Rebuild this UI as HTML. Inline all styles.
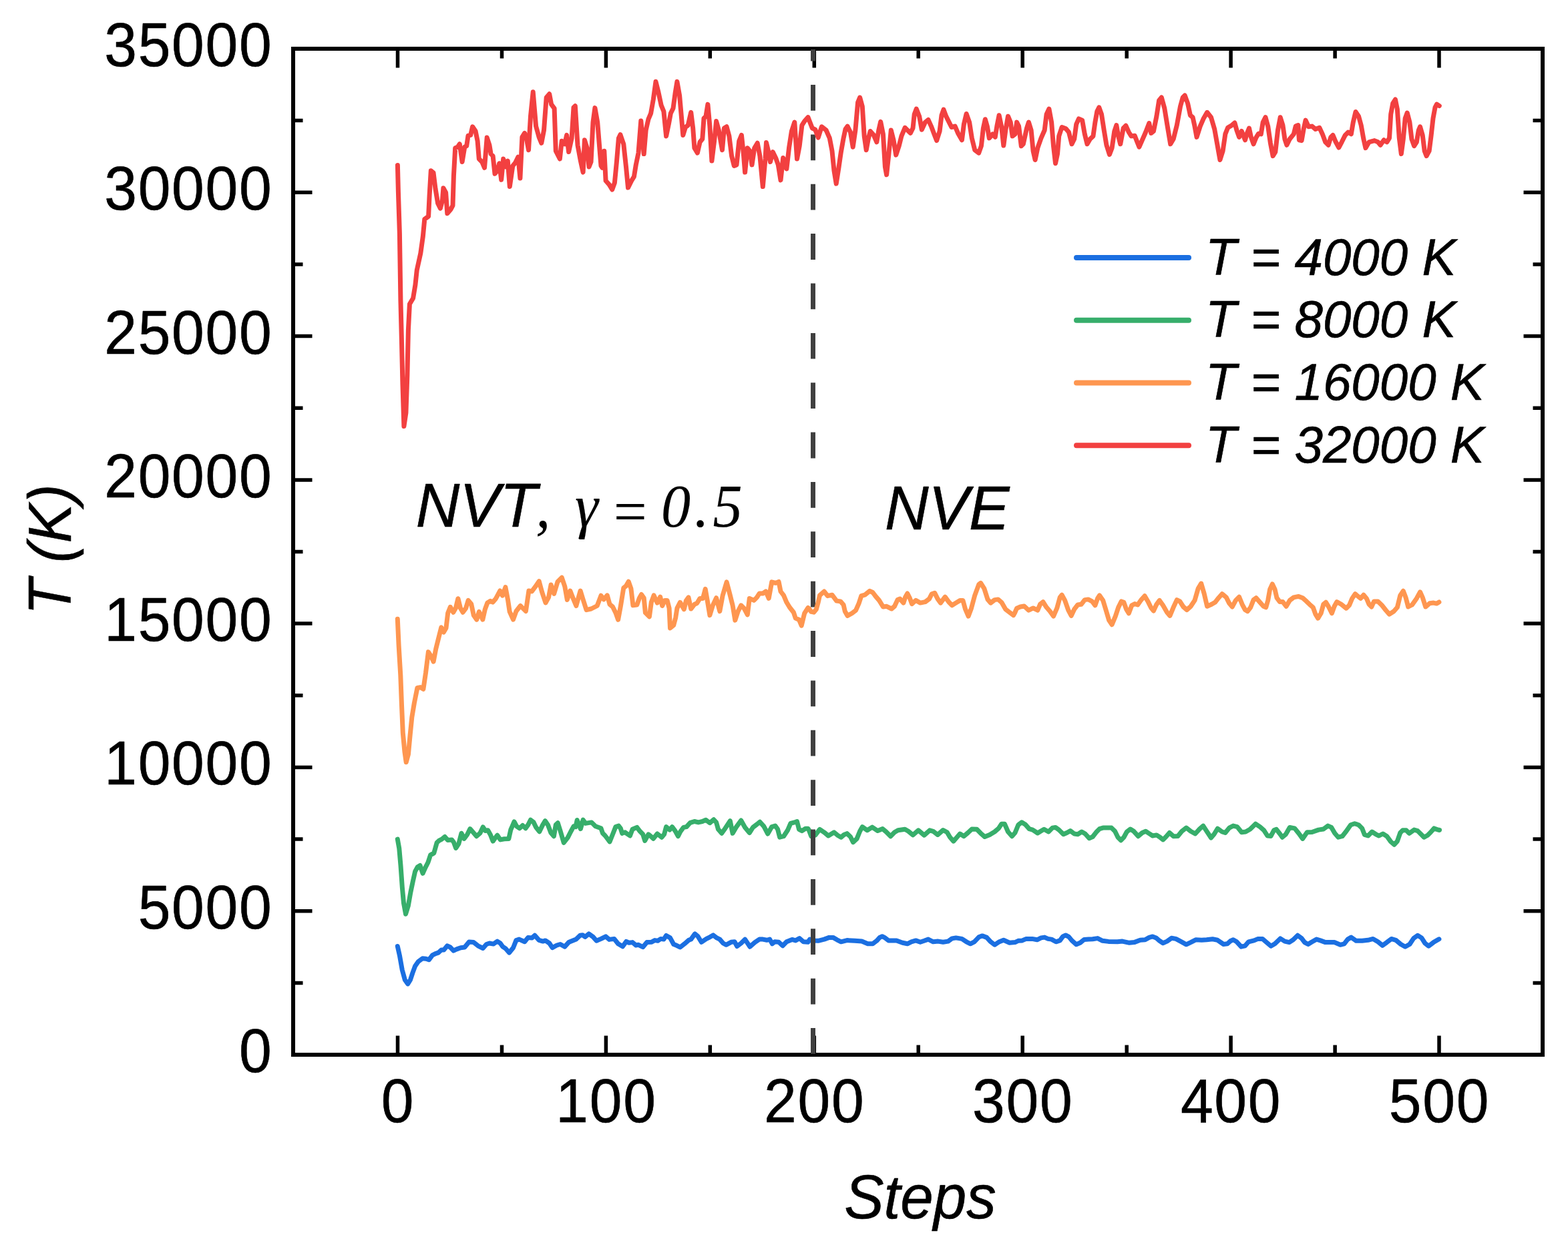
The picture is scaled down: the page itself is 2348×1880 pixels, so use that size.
<!DOCTYPE html>
<html lang="en">
<head>
<meta charset="utf-8">
<title>Temperature vs Steps</title>
<style>
html,body{margin:0;padding:0;background:#fff;}
body{width:2348px;height:1880px;overflow:hidden;}
svg{display:block;}
text{font-family:"Liberation Sans",sans-serif;fill:#000;stroke:#000;stroke-width:0.6px;stroke-linejoin:round;}
.it{font-style:italic;}
.ser{font-family:"Liberation Serif",serif;font-style:italic;stroke-width:0.2px;}
.crv{fill:none;stroke-width:7.0;stroke-linejoin:round;stroke-linecap:round;}
</style>
</head>
<body>
<svg role="img" aria-label="Temperature T (K) versus Steps for four target temperatures" width="2348" height="1880" viewBox="0 0 2348 1880">
<rect x="0" y="0" width="2348" height="1880" fill="#ffffff"/>
<polyline class="crv" points="595.3,1417.5 598.6,1432.3 602.3,1453.1 606.4,1468.0 610.7,1473.9 614.4,1468.0 617.8,1457.6 621.6,1447.2 626.3,1440.5 632.7,1435.8 637.9,1436.3 642.3,1437.8 647.5,1430.9 652.0,1428.6 656.4,1427.1 660.9,1423.0 664.6,1423.0 669.8,1416.8 674.2,1419.0 679.1,1424.2 683.9,1421.9 689.8,1419.7 695.8,1419.0 702.4,1411.1 709.1,1411.6 715.8,1416.8 723.2,1420.5 728.4,1414.5 732.9,1413.0 738.8,1414.1 744.7,1410.1 749.2,1413.0 752.9,1418.2 757.4,1421.2 762.6,1427.1 768.5,1419.7 772.9,1408.6 777.4,1407.1 785.6,1410.8 790.8,1404.4 796.7,1404.9 800.7,1401.2 807.1,1408.3 813.0,1410.1 816.7,1408.9 822.7,1413.0 827.1,1419.7 833.8,1416.0 839.0,1414.5 845.7,1418.2 851.6,1411.6 859.0,1408.6 862.7,1407.1 868.7,1401.2 872.4,1400.7 876.1,1403.4 881.7,1398.9 888.0,1403.4 893.2,1409.3 900.0,1406.4 907.1,1402.9 912.3,1407.4 919.7,1406.4 925.6,1413.8 932.3,1417.8 937.8,1410.4 941.9,1412.3 947.1,1411.6 952.3,1416.0 956.0,1415.3 962.7,1418.7 968.7,1411.6 975.3,1411.3 980.5,1408.6 985.0,1409.3 989.4,1406.4 993.9,1407.1 997.6,1401.5 1003.5,1404.9 1008.7,1414.5 1013.2,1416.3 1018.4,1419.0 1025.1,1413.8 1031.0,1408.6 1034.7,1407.1 1040.6,1398.9 1045.1,1402.7 1050.3,1411.3 1057.7,1406.4 1062.9,1403.8 1068.1,1400.9 1073.3,1404.9 1077.8,1407.1 1082.9,1413.0 1087.4,1415.3 1094.8,1411.3 1100.0,1410.8 1103.7,1417.5 1109.7,1413.0 1115.6,1407.1 1123.0,1418.2 1130.4,1411.6 1137.1,1407.1 1142.3,1407.1 1148.3,1408.3 1152.7,1407.1 1156.4,1413.8 1160.1,1410.8 1166.1,1411.3 1172.0,1416.8 1177.9,1410.8 1186.1,1407.4 1191.3,1408.9 1197.2,1405.6 1203.2,1410.8 1210.0,1411.3 1212.6,1407.1 1217.8,1408.9 1225.2,1409.3 1234.1,1407.1 1241.6,1404.4 1247.5,1404.4 1253.4,1407.8 1259.4,1410.8 1268.3,1408.6 1280.1,1409.3 1290.5,1410.1 1299.4,1413.8 1306.9,1413.8 1312.8,1409.3 1317.3,1404.4 1321.0,1402.7 1325.4,1404.9 1330.6,1408.9 1342.5,1408.9 1351.4,1412.3 1358.8,1413.8 1364.7,1410.8 1371.4,1408.9 1378.1,1411.3 1384.0,1409.3 1390.0,1407.1 1397.4,1410.8 1404.8,1410.1 1412.2,1411.3 1419.7,1410.1 1425.6,1405.9 1431.5,1404.9 1440.4,1406.4 1447.1,1410.8 1453.1,1413.8 1459.0,1410.8 1465.7,1403.8 1470.9,1401.9 1477.6,1404.4 1483.5,1410.8 1489.4,1415.3 1495.4,1411.3 1502.8,1408.3 1511.7,1412.3 1520.0,1411.6 1524.8,1409.3 1530.8,1408.9 1536.7,1406.4 1545.6,1406.4 1553.0,1407.8 1559.0,1404.9 1564.2,1404.1 1569.4,1406.4 1574.6,1407.1 1581.2,1410.8 1587.2,1408.9 1591.6,1402.9 1595.8,1400.9 1600.5,1403.4 1605.0,1408.9 1611.7,1414.8 1617.6,1412.3 1623.5,1407.4 1630.2,1407.1 1636.2,1406.8 1643.6,1405.6 1651.0,1409.3 1659.9,1410.4 1673.3,1410.8 1680.7,1410.1 1691.1,1412.3 1698.5,1411.6 1707.4,1408.3 1714.8,1407.8 1720.8,1404.4 1726.0,1402.9 1731.2,1404.9 1736.3,1409.3 1741.5,1412.7 1747.5,1410.1 1754.2,1405.3 1760.8,1406.4 1768.3,1410.4 1776.4,1414.8 1783.1,1411.6 1790.5,1407.8 1799.4,1408.3 1806.8,1407.8 1815.8,1406.8 1823.2,1408.3 1830.0,1413.0 1831.9,1414.5 1837.8,1413.8 1842.3,1409.8 1846.7,1407.8 1851.9,1410.8 1858.6,1418.2 1864.5,1416.8 1869.7,1410.8 1877.9,1408.9 1883.8,1406.4 1890.5,1406.4 1895.7,1410.8 1903.1,1417.2 1909.1,1413.8 1917.2,1405.9 1923.9,1410.1 1930.6,1411.6 1936.5,1407.8 1943.2,1401.2 1949.1,1405.6 1953.6,1411.6 1958.8,1414.5 1964.0,1411.3 1971.4,1407.1 1977.3,1408.9 1984.7,1411.6 1998.1,1411.6 2007.0,1415.3 2012.9,1413.8 2018.1,1407.1 2023.3,1404.1 2030.8,1409.3 2039.7,1409.3 2048.6,1408.3 2056.0,1406.4 2063.4,1410.8 2070.1,1416.3 2076.8,1411.6 2083.5,1406.4 2090.1,1408.3 2097.6,1414.5 2104.2,1418.2 2110.9,1414.5 2116.8,1405.6 2122.8,1401.2 2128.7,1404.9 2133.9,1413.0 2139.3,1417.2 2146.7,1411.6 2154.9,1406.8" stroke="#1b6fe1"/>
<polyline class="crv" points="595.3,1257.1 597.8,1271.2 600.0,1296.5 602.3,1329.1 604.5,1352.9 607.5,1369.2 611.2,1357.3 614.9,1336.5 618.3,1320.2 621.6,1305.4 625.3,1298.7 629.0,1296.5 633.1,1308.3 637.1,1299.4 640.9,1292.0 644.6,1280.9 649.8,1277.9 654.2,1262.3 657.2,1259.4 661.6,1257.1 666.1,1253.4 670.5,1258.6 676.5,1257.9 679.4,1261.6 682.7,1270.5 686.9,1263.8 691.0,1248.2 695.0,1256.4 699.5,1250.5 703.9,1241.6 709.1,1247.5 713.6,1252.7 718.8,1248.2 723.2,1238.9 726.9,1244.5 730.6,1243.8 734.4,1250.5 738.1,1260.1 741.8,1254.9 744.7,1251.2 749.2,1257.9 755.1,1256.7 761.8,1256.4 764.8,1243.0 770.0,1230.9 773.7,1237.8 778.1,1240.8 782.6,1236.4 787.1,1240.8 790.8,1235.6 794.5,1228.2 798.9,1231.5 802.6,1239.3 807.8,1245.7 812.3,1236.4 816.4,1229.7 820.4,1235.6 824.9,1247.5 829.4,1252.7 832.3,1235.6 835.3,1232.7 839.0,1244.5 844.2,1262.3 850.1,1254.9 854.6,1246.0 859.0,1237.8 862.0,1238.6 864.2,1228.5 869.4,1241.6 873.1,1228.2 876.8,1233.4 885.8,1231.9 891.7,1237.8 900.0,1240.8 902.6,1248.3 906.3,1252.0 913.0,1260.9 917.5,1249.8 921.9,1238.6 926.4,1237.1 929.3,1240.9 931.6,1248.3 936.0,1246.8 943.4,1252.0 947.1,1242.3 953.8,1239.4 958.3,1245.3 962.7,1249.8 965.7,1259.4 970.9,1249.8 974.6,1252.7 978.3,1256.4 984.2,1249.0 990.9,1254.2 994.6,1249.8 997.6,1238.6 1002.8,1243.1 1006.5,1238.6 1011.0,1244.6 1015.4,1252.7 1019.1,1245.3 1023.6,1239.4 1028.0,1238.6 1033.2,1232.7 1039.9,1230.5 1045.8,1231.9 1051.8,1230.5 1057.0,1228.2 1062.9,1232.7 1068.8,1227.8 1072.6,1231.9 1075.5,1242.3 1080.7,1248.3 1085.9,1240.9 1093.3,1229.7 1097.1,1248.3 1102.2,1239.4 1109.7,1229.0 1115.6,1239.4 1122.3,1247.5 1127.5,1239.4 1133.4,1234.9 1137.9,1231.2 1143.8,1237.9 1149.7,1249.0 1155.7,1238.6 1160.9,1237.1 1164.6,1242.3 1167.6,1254.2 1173.5,1252.7 1179.4,1243.8 1183.9,1233.4 1189.8,1231.9 1193.5,1230.5 1196.5,1242.3 1200.9,1244.6 1206.1,1241.2 1210.0,1241.2 1211.1,1243.1 1214.8,1252.7 1220.8,1251.2 1227.5,1242.3 1234.1,1246.8 1240.4,1252.0 1249.0,1246.8 1254.2,1251.2 1259.4,1254.2 1263.8,1250.5 1268.3,1248.6 1273.5,1253.5 1277.5,1261.6 1283.1,1256.4 1287.6,1245.3 1291.3,1238.6 1298.7,1243.8 1306.1,1239.1 1314.3,1244.6 1321.7,1241.6 1326.9,1246.0 1333.6,1252.7 1339.5,1246.8 1344.7,1243.8 1355.1,1242.3 1360.3,1245.3 1367.0,1250.9 1375.1,1243.8 1384.0,1251.2 1392.2,1243.8 1397.4,1245.3 1404.1,1250.5 1412.2,1243.5 1418.2,1246.8 1422.6,1254.2 1427.8,1260.1 1432.3,1255.0 1437.5,1249.0 1443.4,1252.7 1449.4,1247.5 1455.3,1242.0 1462.7,1242.3 1468.6,1248.3 1474.6,1253.5 1482.0,1250.5 1489.4,1246.0 1495.4,1240.9 1499.8,1234.2 1504.3,1234.2 1509.5,1246.0 1515.4,1252.7 1520.0,1247.5 1524.8,1235.7 1530.0,1231.7 1535.2,1234.9 1541.2,1241.6 1546.4,1243.1 1553.8,1248.0 1558.2,1245.3 1563.4,1242.3 1570.1,1246.0 1576.0,1240.1 1580.5,1239.4 1585.7,1243.1 1592.4,1249.8 1597.6,1247.5 1602.8,1244.6 1608.7,1249.0 1613.9,1249.8 1619.8,1246.0 1625.0,1249.0 1631.0,1255.7 1636.2,1253.5 1641.4,1246.8 1646.5,1241.6 1651.7,1240.1 1664.4,1240.1 1669.6,1245.3 1674.0,1254.2 1678.5,1258.7 1682.9,1254.2 1687.4,1246.0 1692.6,1242.0 1697.8,1245.3 1704.4,1252.7 1710.4,1247.5 1715.6,1245.3 1720.8,1248.6 1726.0,1252.0 1731.9,1250.9 1737.1,1254.2 1741.5,1257.9 1746.0,1253.5 1751.2,1247.5 1757.1,1252.7 1763.8,1252.4 1769.7,1245.3 1776.4,1240.1 1783.1,1245.3 1789.8,1249.0 1796.5,1241.6 1801.7,1237.1 1806.1,1243.8 1813.5,1255.0 1818.0,1249.8 1823.2,1241.2 1830.0,1246.0 1834.8,1247.5 1840.8,1240.1 1846.7,1237.1 1852.7,1238.6 1859.3,1246.8 1865.3,1246.0 1871.9,1242.3 1880.1,1234.2 1886.8,1238.6 1892.7,1243.8 1897.9,1252.0 1903.1,1252.4 1907.6,1243.8 1911.3,1242.3 1916.5,1249.0 1920.2,1254.2 1925.4,1249.8 1931.3,1239.4 1938.7,1240.9 1944.7,1248.3 1950.6,1256.4 1957.3,1246.8 1964.7,1246.5 1974.4,1243.1 1981.8,1242.0 1988.5,1237.1 1993.7,1239.4 1998.8,1248.3 2004.0,1254.2 2010.0,1252.7 2015.9,1245.3 2022.6,1235.7 2028.5,1233.7 2034.5,1235.7 2039.7,1240.9 2043.4,1250.5 2048.6,1252.0 2054.5,1246.0 2060.4,1249.8 2064.9,1252.0 2070.8,1249.0 2076.8,1252.7 2082.7,1260.9 2087.9,1265.3 2092.4,1260.1 2096.8,1247.5 2100.5,1243.8 2105.7,1243.8 2110.2,1248.3 2117.6,1243.1 2122.8,1244.6 2128.0,1249.8 2132.4,1254.2 2137.8,1251.2 2142.3,1246.8 2147.5,1240.9 2151.9,1242.6 2155.6,1243.5" stroke="#37ae6b"/>
<rect x="439.0" y="73.0" width="1871.0" height="1507.0" fill="none" stroke="#000" stroke-width="6"/>
<path d="M439.0 1580.0h28.5 M2310.0 1580.0h-28.5 M439.0 1472.4h14.5 M2310.0 1472.4h-14.5 M439.0 1364.7h28.5 M2310.0 1364.7h-28.5 M439.0 1257.1h14.5 M2310.0 1257.1h-14.5 M439.0 1149.4h28.5 M2310.0 1149.4h-28.5 M439.0 1041.8h14.5 M2310.0 1041.8h-14.5 M439.0 934.1h28.5 M2310.0 934.1h-28.5 M439.0 826.5h14.5 M2310.0 826.5h-14.5 M439.0 718.9h28.5 M2310.0 718.9h-28.5 M439.0 611.2h14.5 M2310.0 611.2h-14.5 M439.0 503.6h28.5 M2310.0 503.6h-28.5 M439.0 395.9h14.5 M2310.0 395.9h-14.5 M439.0 288.3h28.5 M2310.0 288.3h-28.5 M439.0 180.6h14.5 M2310.0 180.6h-14.5 M439.0 73.0h28.5 M2310.0 73.0h-28.5 M595.5 1580.0v-28.5 M595.5 73.0v28.5 M751.5 1580.0v-14.5 M751.5 73.0v14.5 M907.4 1580.0v-28.5 M907.4 73.0v28.5 M1063.3 1580.0v-14.5 M1063.3 73.0v14.5 M1219.3 1580.0v-28.5 M1219.3 73.0v28.5 M1375.2 1580.0v-14.5 M1375.2 73.0v14.5 M1531.2 1580.0v-28.5 M1531.2 73.0v28.5 M1687.2 1580.0v-14.5 M1687.2 73.0v14.5 M1843.1 1580.0v-28.5 M1843.1 73.0v28.5 M1999.1 1580.0v-14.5 M1999.1 73.0v14.5 M2155.0 1580.0v-28.5 M2155.0 73.0v28.5" fill="none" stroke="#000" stroke-width="5.5"/>
<path d="M1217.5 74.0V91.4 M1217.5 127.0V165.8 M1217.5 201.4V240.2 M1217.5 275.7V314.5 M1217.5 350.1V388.9 M1217.5 424.5V463.3 M1217.5 498.9V537.6 M1217.5 573.2V612.0 M1217.5 647.6V686.4 M1217.5 722.0V760.8 M1217.5 796.3V835.1 M1217.5 870.7V909.5 M1217.5 945.1V983.9 M1217.5 1019.4V1058.2 M1217.5 1093.8V1132.6 M1217.5 1168.2V1207.0 M1217.5 1242.5V1281.3 M1217.5 1316.9V1355.7 M1217.5 1391.3V1430.1 M1217.5 1465.7V1504.5 M1217.5 1540.0V1578.8" fill="none" stroke="#404040" stroke-width="7"/>
<polyline class="crv" points="595.3,927.2 597.1,966.7 599.8,1011.6 601.5,1056.5 603.3,1097.8 606.0,1126.5 608.2,1141.8 611.4,1130.1 614.1,1101.4 616.8,1074.5 620.4,1052.9 624.9,1030.5 629.4,1029.6 633.9,1032.3 637.5,1008.0 641.4,976.6 645.5,982.9 649.1,991.0 652.7,972.1 656.3,957.7 660.8,939.8 664.4,947.0 668.0,940.7 670.7,918.2 674.3,909.3 678.8,917.3 682.4,911.1 685.9,896.7 689.5,911.1 693.1,917.3 697.6,911.1 701.2,899.4 705.7,904.8 709.3,921.8 713.8,928.1 717.4,916.4 722.8,928.1 726.3,912.8 729.9,903.0 734.4,900.3 738.0,902.1 742.5,896.7 748.8,885.0 752.4,892.2 756.9,879.6 760.5,898.5 763.2,916.4 768.5,928.1 773.0,915.5 779.3,907.5 782.9,911.1 787.4,915.5 791.9,885.0 796.4,885.9 801.8,878.7 807.2,870.7 811.6,886.8 817.0,903.0 821.5,894.9 825.1,876.0 829.6,889.5 835.0,871.5 841.3,865.3 845.8,878.7 849.3,898.5 853.8,885.0 858.3,896.7 862.8,907.5 869.1,885.0 872.7,896.7 878.1,913.7 885.3,912.0 894.2,907.5 900.0,892.2 904.1,897.9 909.3,891.9 913.0,905.3 917.5,909.0 921.9,917.9 925.6,928.3 929.3,908.3 933.8,880.8 937.5,877.8 941.2,871.2 944.9,881.6 947.9,906.8 953.8,906.0 957.5,895.7 960.5,890.5 964.2,895.7 966.4,917.9 972.4,923.9 975.3,902.3 979.1,891.9 984.2,903.1 988.7,894.2 991.7,907.5 995.4,899.4 999.1,899.4 1002.1,911.2 1003.5,940.9 1008.7,936.5 1011.7,925.3 1013.9,911.2 1018.4,902.3 1024.3,912.7 1027.3,900.1 1031.0,894.9 1034.7,912.0 1039.9,905.3 1043.6,903.8 1048.1,896.4 1052.5,896.4 1056.2,882.3 1059.2,899.4 1062.9,921.6 1067.4,906.8 1072.6,895.7 1077.8,915.7 1082.2,891.9 1088.1,871.9 1092.6,889.0 1097.1,906.8 1100.8,929.1 1105.2,915.7 1109.7,906.8 1114.1,911.2 1119.3,920.9 1122.3,896.4 1129.0,899.4 1133.4,894.9 1137.1,889.0 1142.3,889.0 1146.8,886.0 1151.2,896.4 1155.7,871.9 1161.6,873.4 1166.1,871.5 1169.0,886.0 1173.5,891.9 1177.9,902.3 1182.4,909.8 1188.3,917.2 1191.3,926.1 1196.5,928.3 1200.2,937.2 1204.7,918.7 1210.0,910.5 1211.1,911.2 1214.8,916.4 1218.6,917.2 1222.3,912.7 1225.2,902.3 1227.5,891.9 1234.1,886.0 1239.3,892.7 1246.0,891.2 1252.7,900.1 1258.6,900.9 1263.1,906.0 1265.3,915.7 1269.0,922.4 1275.7,918.7 1281.6,914.2 1286.1,903.8 1289.8,892.7 1295.0,891.2 1302.4,885.3 1306.9,887.5 1311.3,893.4 1316.5,899.4 1322.4,909.0 1327.6,908.3 1335.1,912.0 1339.5,908.3 1344.0,898.6 1347.7,897.1 1352.9,903.1 1355.8,894.2 1358.8,889.0 1362.5,896.4 1365.5,904.6 1371.4,899.4 1378.1,903.1 1385.5,901.6 1391.5,897.1 1395.2,889.7 1399.6,888.2 1404.1,897.1 1408.5,903.1 1415.2,894.2 1421.2,902.3 1425.6,906.8 1431.5,903.1 1437.5,899.4 1441.9,899.4 1445.6,912.7 1450.1,923.1 1454.5,911.2 1459.7,891.9 1465.7,875.6 1468.6,873.4 1473.8,881.6 1479.0,897.9 1483.5,903.1 1489.4,898.6 1494.6,897.9 1499.8,902.3 1505.8,912.7 1511.7,917.2 1517.6,921.6 1520.0,917.2 1522.6,911.2 1527.8,909.0 1533.7,908.0 1540.4,914.2 1547.1,910.9 1553.8,914.2 1557.5,905.3 1561.9,901.6 1567.1,909.8 1572.3,915.7 1577.5,923.1 1582.7,911.2 1587.2,894.9 1590.1,891.2 1594.6,899.4 1599.8,914.2 1604.2,922.4 1608.7,912.7 1613.9,906.0 1619.1,905.3 1624.3,898.6 1629.5,897.9 1635.4,900.9 1639.9,906.8 1643.6,896.4 1646.5,891.9 1651.7,899.4 1656.2,914.2 1660.6,929.1 1665.1,935.7 1670.3,923.1 1674.7,909.8 1679.2,900.9 1682.9,902.3 1686.6,912.7 1690.3,918.7 1694.8,906.8 1699.2,904.6 1703.7,906.0 1708.9,898.6 1714.1,892.7 1719.3,901.6 1723.7,910.5 1727.4,915.0 1731.9,905.3 1736.3,899.4 1741.5,906.8 1747.5,917.2 1751.9,922.4 1757.1,909.8 1762.3,898.6 1766.8,900.9 1772.0,909.0 1777.2,913.5 1783.1,908.3 1789.0,899.4 1794.2,881.6 1798.7,874.1 1803.1,889.0 1807.6,908.3 1814.3,905.3 1819.5,902.3 1824.7,895.7 1830.0,889.7 1831.1,890.5 1836.3,894.9 1840.8,903.8 1845.2,909.0 1850.4,899.4 1855.6,894.2 1860.1,905.3 1864.5,913.5 1868.2,915.7 1872.7,909.8 1877.1,898.6 1880.9,895.7 1886.8,902.3 1892.0,908.3 1895.7,909.8 1898.7,899.4 1901.6,883.0 1905.3,874.9 1909.1,883.0 1912.0,895.7 1916.5,901.6 1920.9,901.6 1926.1,908.3 1931.3,899.4 1937.3,894.9 1944.7,893.4 1950.6,895.7 1956.5,900.9 1961.0,905.3 1966.2,909.8 1969.9,920.1 1973.6,926.1 1978.1,918.7 1981.8,905.3 1985.5,902.3 1989.2,908.3 1994.4,918.7 1998.1,908.3 2001.8,901.6 2008.5,905.3 2015.9,911.2 2020.4,906.8 2024.8,896.4 2029.3,889.7 2033.7,893.4 2037.4,896.4 2041.9,891.2 2046.3,896.4 2050.1,905.3 2053.8,909.0 2057.5,900.9 2063.4,900.9 2069.4,906.8 2075.3,914.2 2080.5,920.1 2087.2,915.7 2092.4,909.8 2096.8,891.9 2101.3,885.3 2105.0,894.9 2108.7,909.0 2114.6,906.0 2121.3,896.4 2126.5,886.8 2130.2,894.9 2134.7,909.0 2140.8,903.8 2146.7,903.1 2151.2,904.1 2154.9,902.0" stroke="#fe9650"/>
<polyline class="crv" points="595.4,247.4 596.4,287.3 598.4,349.6 599.9,449.2 601.4,509.0 602.9,573.8 604.9,638.6 607.9,618.6 609.9,561.3 611.4,494.1 613.4,455.5 618.6,446.7 621.9,426.8 624.3,404.4 629.8,379.5 633.3,354.6 635.8,328.4 641.6,324.1 643.1,292.9 645.3,255.8 649.0,258.8 652.0,282.6 655.7,304.8 659.4,312.2 662.4,300.4 663.9,281.8 667.6,288.5 669.8,319.7 675.0,313.7 678.0,307.8 679.4,263.3 681.7,221.7 685.4,220.2 688.3,215.8 692.1,242.5 695.8,220.2 698.7,218.7 701.0,203.2 704.7,202.4 707.6,189.8 712.1,196.5 715.1,211.3 717.3,238.0 721.7,242.5 725.5,251.4 729.2,206.1 732.9,217.3 735.1,230.6 738.1,233.6 741.0,260.3 744.7,255.8 747.7,244.7 750.7,269.2 753.7,238.0 757.4,249.9 760.3,241.0 763.3,279.6 767.8,248.4 771.5,244.0 775.9,235.1 778.9,267.0 781.9,205.4 785.6,199.4 788.5,208.3 791.5,224.7 794.5,174.2 798.2,137.8 802.6,189.1 807.1,205.4 810.8,214.3 814.5,195.0 818.2,146.0 822.7,140.8 825.6,156.4 830.1,162.3 832.3,226.2 838.3,238.0 841.2,211.3 845.7,215.8 848.6,202.4 851.6,227.6 856.1,206.9 859.0,160.9 861.3,158.6 865.0,217.3 869.4,241.0 873.1,258.1 875.4,209.8 879.1,221.7 882.0,249.9 885.0,242.5 888.0,183.1 890.9,161.6 894.7,183.1 900.0,248.4 901.9,251.4 904.8,226.2 907.1,270.7 912.3,276.6 916.7,284.0 920.4,273.7 923.4,242.5 926.4,206.9 928.9,201.7 933.8,215.8 937.5,249.9 940.5,281.1 945.7,270.7 949.4,264.7 952.3,246.9 956.0,229.1 959.8,180.9 964.2,230.6 967.2,195.0 970.9,178.7 974.6,169.8 978.3,149.0 982.0,122.3 985.7,137.1 990.2,157.9 993.9,166.8 997.6,203.9 1001.3,186.1 1004.3,169.8 1008.0,162.3 1011.0,140.1 1013.9,122.3 1017.6,143.0 1020.6,177.2 1022.8,202.4 1026.5,190.5 1030.3,187.6 1034.7,168.3 1037.7,192.0 1039.9,221.7 1044.4,229.1 1048.1,212.8 1051.8,208.3 1054.0,177.2 1057.0,174.2 1059.9,156.4 1062.9,189.1 1065.9,241.0 1069.6,211.3 1072.6,181.6 1076.3,195.0 1081.5,224.7 1084.4,192.0 1088.1,189.8 1091.9,203.9 1095.6,233.6 1099.3,248.4 1103.0,246.9 1106.7,211.3 1110.4,202.4 1113.4,230.6 1115.6,258.1 1119.3,221.7 1123.0,226.2 1126.0,246.9 1129.7,221.7 1134.2,214.3 1137.9,233.6 1142.3,279.6 1146.0,238.0 1147.5,213.5 1150.5,226.2 1153.5,242.5 1157.2,227.6 1161.6,236.5 1165.3,246.9 1169.0,269.9 1172.7,236.5 1177.9,252.9 1181.7,220.2 1185.4,196.5 1189.8,183.1 1193.5,238.0 1197.2,218.7 1200.9,187.6 1204.7,181.6 1210.0,175.7 1213.4,184.6 1216.3,192.0 1220.8,194.2 1225.2,206.1 1230.4,189.8 1237.1,195.0 1242.3,206.9 1246.0,226.2 1249.0,255.8 1252.2,275.1 1255.7,252.9 1259.4,227.6 1263.1,206.9 1266.0,193.5 1269.0,189.1 1273.5,198.0 1277.2,220.2 1280.9,195.0 1284.6,153.4 1287.6,146.0 1291.3,159.4 1294.2,203.9 1297.2,224.7 1300.2,208.3 1303.2,196.5 1308.3,202.4 1312.8,212.8 1315.8,195.0 1318.7,182.4 1322.4,200.9 1325.4,249.9 1327.6,261.8 1330.6,233.6 1334.3,195.0 1338.0,209.8 1341.7,232.1 1346.2,218.7 1349.9,203.9 1355.1,191.3 1359.6,195.7 1363.3,199.4 1367.0,192.0 1369.2,171.2 1372.2,163.1 1376.6,174.2 1380.3,194.2 1385.5,183.1 1390.0,179.4 1394.4,189.1 1398.9,200.9 1402.6,210.6 1407.1,196.5 1410.0,172.7 1413.0,164.1 1416.7,174.2 1421.2,183.1 1424.9,190.5 1430.1,189.1 1434.5,199.4 1440.4,209.8 1443.4,186.1 1447.1,170.5 1451.6,183.1 1455.3,206.9 1459.7,224.7 1465.7,229.1 1469.4,218.7 1472.4,192.0 1475.3,178.7 1478.3,189.1 1481.3,206.9 1486.5,200.9 1490.2,205.4 1493.1,187.6 1496.1,172.7 1499.8,190.5 1502.8,218.0 1505.8,195.0 1509.5,174.2 1513.2,183.1 1516.1,203.9 1520.0,200.9 1522.6,183.1 1525.6,189.1 1529.3,218.7 1532.3,215.8 1537.5,192.0 1540.4,183.1 1544.1,195.0 1547.1,226.2 1550.1,239.5 1553.8,221.7 1559.0,206.9 1564.2,195.0 1567.1,171.2 1570.9,163.1 1574.6,183.1 1577.5,218.7 1580.5,244.7 1583.5,230.6 1585.7,203.9 1590.1,190.5 1596.1,192.8 1600.5,198.0 1605.0,215.8 1608.7,208.3 1611.7,186.1 1615.4,177.9 1620.6,180.1 1624.3,200.9 1628.0,215.8 1632.4,208.3 1636.9,203.9 1639.9,183.1 1642.8,166.8 1645.8,160.9 1649.5,171.2 1653.2,195.0 1656.9,217.3 1661.4,231.4 1665.1,221.7 1668.8,196.5 1671.8,187.6 1674.7,203.9 1677.7,215.8 1682.2,192.0 1685.9,188.3 1690.3,198.0 1694.0,203.9 1699.2,203.2 1702.9,212.8 1705.9,220.2 1710.4,209.8 1715.6,198.0 1720.8,184.6 1723.7,199.4 1727.4,196.5 1731.9,174.2 1735.6,150.5 1739.3,146.0 1743.8,162.3 1748.2,189.1 1752.7,215.8 1757.1,208.3 1762.3,187.6 1767.5,159.4 1771.2,146.0 1774.2,143.0 1778.6,154.9 1782.4,172.7 1786.1,175.7 1789.0,189.1 1792.0,205.4 1797.2,189.1 1802.4,177.2 1807.6,168.3 1813.5,175.7 1818.7,193.5 1823.2,218.7 1826.9,239.5 1831.1,226.2 1834.8,200.9 1838.6,191.3 1843.7,188.3 1848.9,183.9 1851.9,195.0 1855.6,205.4 1859.3,196.5 1864.5,209.8 1867.5,199.4 1870.5,192.0 1873.4,205.4 1877.1,215.8 1880.9,206.1 1884.6,200.2 1888.3,200.9 1891.2,183.1 1895.0,175.7 1898.7,189.1 1902.4,214.3 1906.1,233.6 1909.8,227.6 1913.5,195.0 1917.2,175.7 1920.9,187.6 1923.9,208.3 1926.9,217.3 1931.3,208.3 1937.3,200.9 1940.2,189.1 1943.9,187.6 1945.4,209.8 1949.1,210.6 1952.1,193.5 1955.1,180.1 1959.5,189.8 1964.7,189.1 1969.9,193.5 1975.8,191.3 1980.3,200.9 1984.7,212.8 1989.2,217.3 1992.9,205.4 1995.9,202.4 2000.3,212.8 2004.8,221.0 2009.2,212.8 2014.4,202.4 2018.9,198.0 2023.3,200.9 2026.3,183.1 2030.0,167.5 2034.5,174.2 2038.2,187.6 2041.9,208.3 2044.9,221.7 2050.1,212.8 2058.2,210.6 2063.4,212.8 2067.1,217.3 2072.3,209.8 2076.8,212.8 2080.5,206.9 2082.7,171.2 2085.7,154.9 2089.4,149.0 2092.4,163.8 2095.3,206.9 2098.3,230.6 2101.3,208.3 2104.2,177.2 2107.2,169.0 2110.9,183.1 2113.9,208.3 2117.6,218.7 2121.3,212.8 2124.3,195.0 2126.5,189.8 2130.2,202.4 2133.2,226.2 2136.1,233.6 2140.1,226.2 2143.0,203.9 2146.0,177.2 2149.0,160.9 2151.5,156.1 2155.3,158.6" stroke="#f24040"/>
<text transform="translate(408.5 1606.0) scale(0.965 1.03)" font-size="90.8" text-anchor="end" letter-spacing="1.8">0</text>
<text transform="translate(408.5 1390.7) scale(0.965 1.03)" font-size="90.8" text-anchor="end" letter-spacing="1.8">5000</text>
<text transform="translate(408.5 1175.4) scale(0.965 1.03)" font-size="90.8" text-anchor="end" letter-spacing="1.8">10000</text>
<text transform="translate(408.5 960.1) scale(0.965 1.03)" font-size="90.8" text-anchor="end" letter-spacing="1.8">15000</text>
<text transform="translate(408.5 744.9) scale(0.965 1.03)" font-size="90.8" text-anchor="end" letter-spacing="1.8">20000</text>
<text transform="translate(408.5 529.6) scale(0.965 1.03)" font-size="90.8" text-anchor="end" letter-spacing="1.8">25000</text>
<text transform="translate(408.5 314.3) scale(0.965 1.03)" font-size="90.8" text-anchor="end" letter-spacing="1.8">30000</text>
<text transform="translate(408.5 99.0) scale(0.965 1.03)" font-size="90.8" text-anchor="end" letter-spacing="1.8">35000</text>
<text transform="translate(596.0 1681.0) scale(0.965 1.03)" font-size="90.8" text-anchor="middle" letter-spacing="1.8">0</text>
<text transform="translate(907.9 1681.0) scale(0.965 1.03)" font-size="90.8" text-anchor="middle" letter-spacing="1.8">100</text>
<text transform="translate(1219.8 1681.0) scale(0.965 1.03)" font-size="90.8" text-anchor="middle" letter-spacing="1.8">200</text>
<text transform="translate(1531.7 1681.0) scale(0.965 1.03)" font-size="90.8" text-anchor="middle" letter-spacing="1.8">300</text>
<text transform="translate(1843.6 1681.0) scale(0.965 1.03)" font-size="90.8" text-anchor="middle" letter-spacing="1.8">400</text>
<text transform="translate(2155.5 1681.0) scale(0.965 1.03)" font-size="90.8" text-anchor="middle" letter-spacing="1.8">500</text>
<text class="it" transform="translate(1378.0 1825.2) scale(0.98 1.03)" font-size="90.8" text-anchor="middle">Steps</text>
<text class="it" transform="translate(105.9 823.3) rotate(-90) scale(0.972 1.0)" font-size="90.8" text-anchor="middle">T (K)</text>
<text transform="translate(622.7 788.5) scale(1.0 1.03)" font-size="90.8" text-anchor="start"><tspan class="it">NVT</tspan><tspan class="ser" font-size="88.2" dx="-2">,</tspan><tspan class="ser" font-size="88.2" dx="14.75"> γ</tspan><tspan class="ser" font-size="88.2" dx="-4.75" dy="7.8"> =</tspan><tspan class="ser" font-size="88.2" dx="-10.5" dy="-7.8" letter-spacing="5.75"> 0.5</tspan></text>
<text class="it" transform="translate(1325.0 793.1) scale(1.0 1.03)" font-size="90.8" text-anchor="start">NVE</text>
<line x1="1612" y1="386" x2="1780" y2="386" stroke="#1b6fe1" stroke-width="8" stroke-linecap="round"/>
<text class="it" transform="translate(1805.0 411.5) scale(1.0 1.02)" font-size="76.3" text-anchor="start">T = 4000 K</text>
<line x1="1612" y1="479.8" x2="1780" y2="479.8" stroke="#37ae6b" stroke-width="8" stroke-linecap="round"/>
<text class="it" transform="translate(1805.0 505.4) scale(1.0 1.02)" font-size="76.3" text-anchor="start">T = 8000 K</text>
<line x1="1612" y1="573.6" x2="1780" y2="573.6" stroke="#fe9650" stroke-width="8" stroke-linecap="round"/>
<text class="it" transform="translate(1805.0 599.4) scale(1.0 1.02)" font-size="76.3" text-anchor="start">T = 16000 K</text>
<line x1="1612" y1="667.2" x2="1780" y2="667.2" stroke="#f24040" stroke-width="8" stroke-linecap="round"/>
<text class="it" transform="translate(1805.0 693.3) scale(1.0 1.02)" font-size="76.3" text-anchor="start">T = 32000 K</text>
</svg>
</body>
</html>
